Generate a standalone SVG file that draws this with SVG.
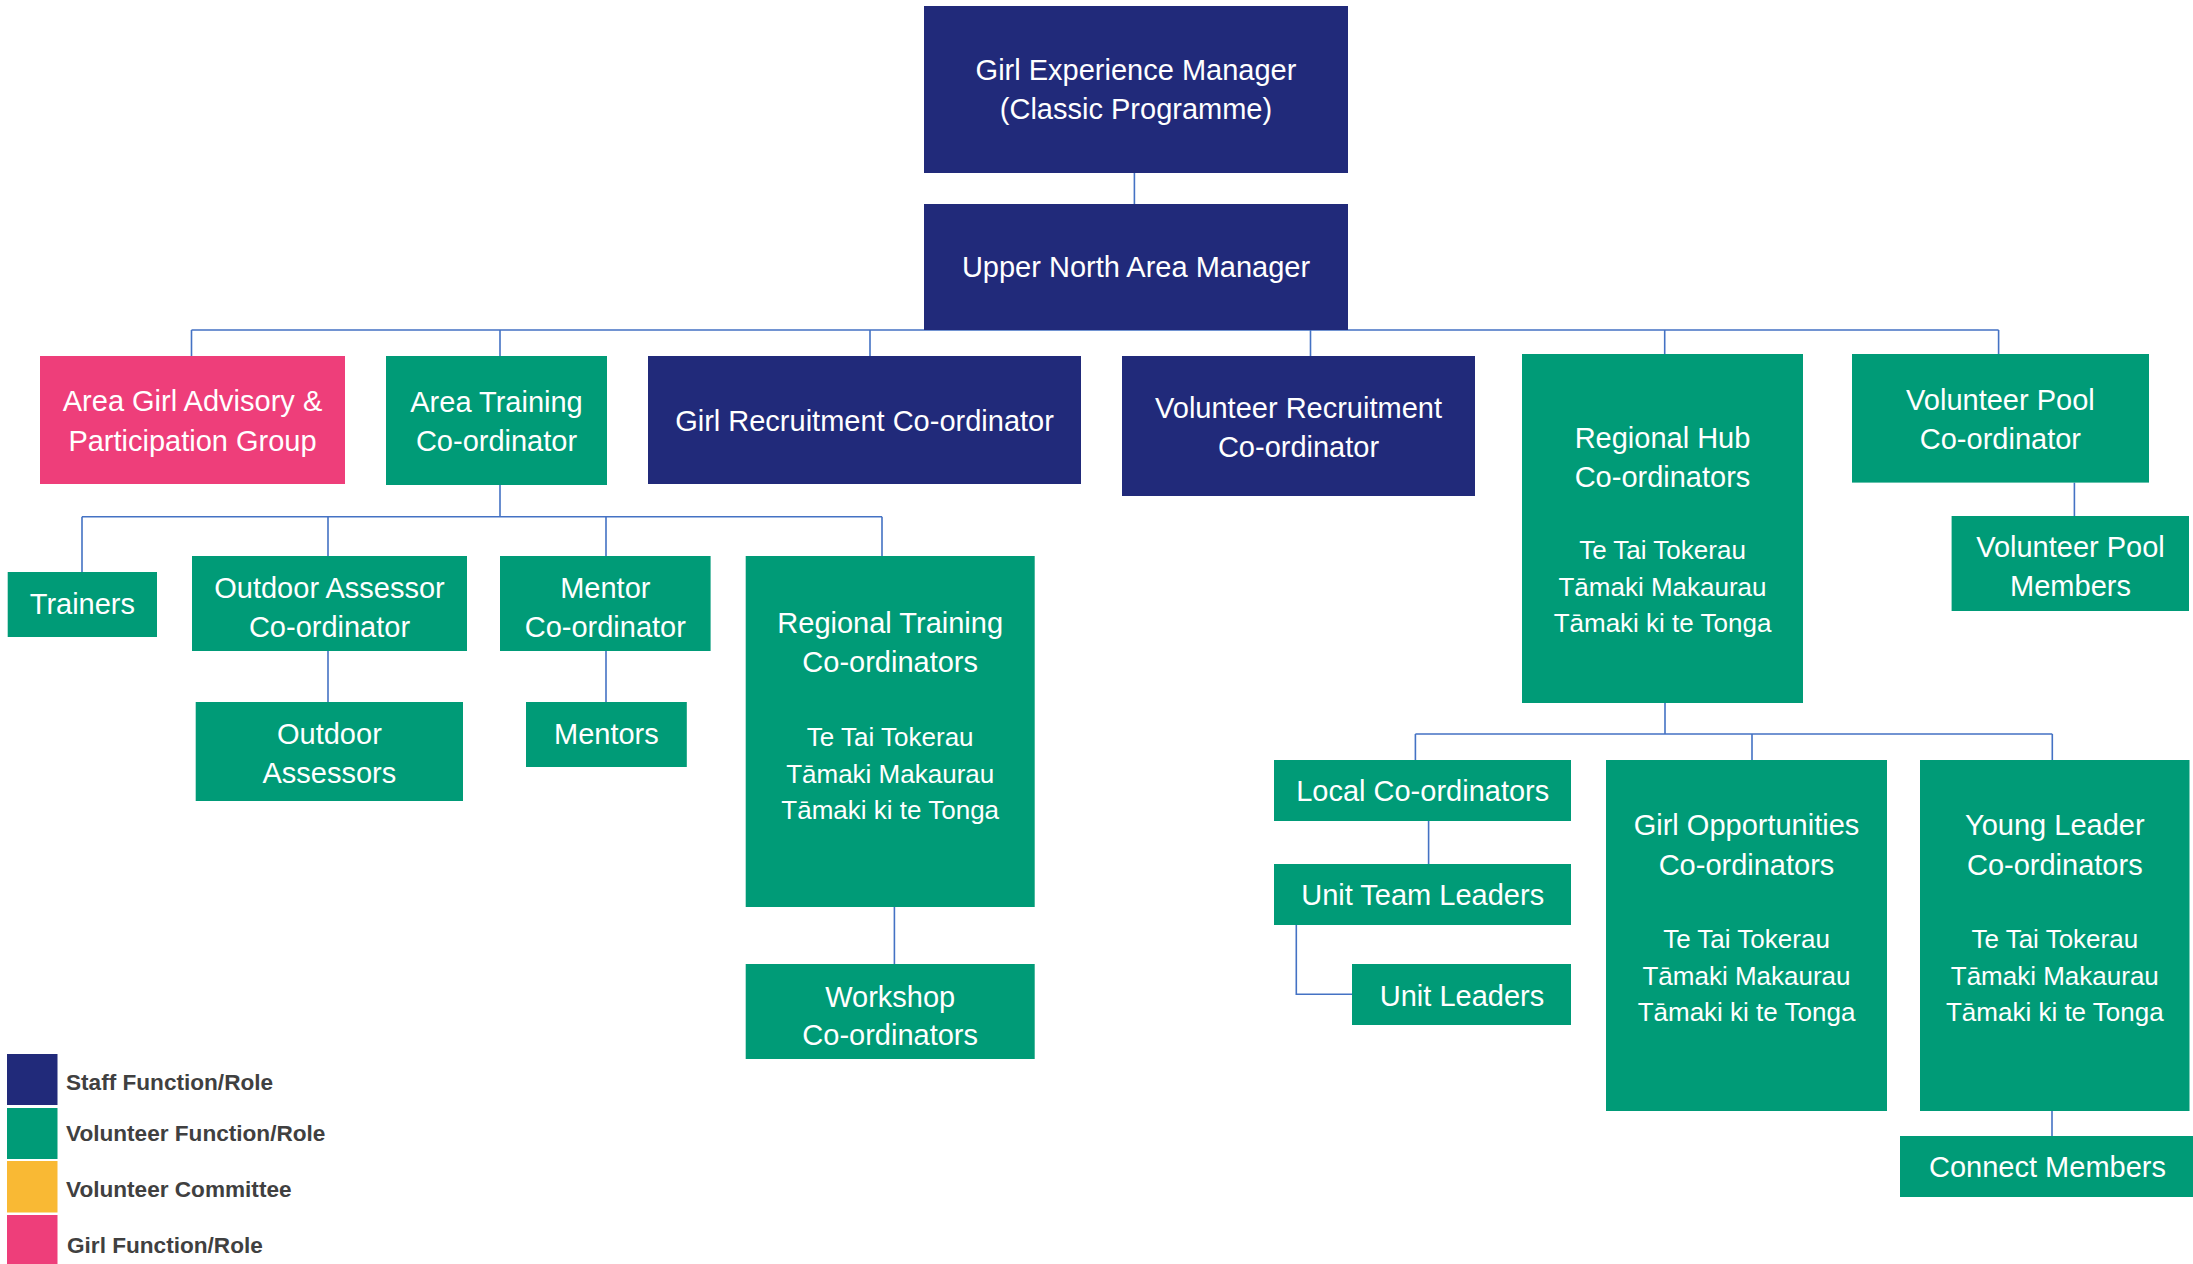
<svg xmlns="http://www.w3.org/2000/svg" width="2193" height="1264" viewBox="0 0 2193 1264">
<style>
.staff{fill:#212A7A}
.vol{fill:#009B77}
.girl{fill:#EE3E7A}
.comm{fill:#F9B934}
.t{font-family:"Liberation Sans",Arial,sans-serif;font-size:29px;fill:#ffffff;text-anchor:middle}
.p{font-family:"Liberation Sans",Arial,sans-serif;font-size:26px;fill:#ffffff;text-anchor:middle}
.lg{font-family:"Liberation Sans",Arial,sans-serif;font-size:22.6px;font-weight:bold;fill:#404040}
.c{fill:none;stroke:#4472C4;stroke-width:1.6}
</style>
<rect width="2193" height="1264" fill="#ffffff"/>
<g id="connectors">
<path class="c" d="M1134.4,172.7V204"/>
<path class="c" d="M191.5,330H1998.6M191.5,330V356M500,330V356M870,330V356M1310.5,330V356M1664.7,330V354M1998.6,330V354"/>
<path class="c" d="M500,485V516.7M82,516.7H882M82,516.7V572M328,516.7V556M606,516.7V556M882,516.7V556"/>
<path class="c" d="M328,651V702"/>
<path class="c" d="M606,651V702"/>
<path class="c" d="M894.4,907V964"/>
<path class="c" d="M2074.4,482.6V516"/>
<path class="c" d="M1665,703V734M1415.4,734H2052.3M1415.4,734V760M1752,734V760M2052.3,734V760"/>
<path class="c" d="M1428.6,821V864"/>
<path class="c" d="M1296.3,925V994.2H1352"/>
<path class="c" d="M2052,1111V1136"/>
</g>
<g id="girl-experience-manager">
<rect class="staff" x="924" y="6" width="424" height="167"/>
<text class="t" x="1136" y="80">Girl Experience Manager</text>
<text class="t" x="1136" y="119">(Classic Programme)</text>
</g>
<g id="upper-north-area-manager">
<rect class="staff" x="924" y="204" width="424" height="126"/>
<text class="t" x="1136" y="277">Upper North Area Manager</text>
</g>
<g id="area-girl-advisory">
<rect class="girl" x="40" y="356" width="305" height="128"/>
<text class="t" x="192.5" y="410.5">Area Girl Advisory &amp;</text>
<text class="t" x="192.5" y="450.5">Participation Group</text>
</g>
<g id="area-training-coordinator">
<rect class="vol" x="386" y="356" width="221" height="129"/>
<text class="t" x="496.5" y="411.5">Area Training</text>
<text class="t" x="496.5" y="451">Co-ordinator</text>
</g>
<g id="girl-recruitment-coordinator">
<rect class="staff" x="648" y="356" width="433" height="128"/>
<text class="t" x="864.5" y="431">Girl Recruitment Co-ordinator</text>
</g>
<g id="volunteer-recruitment-coordinator">
<rect class="staff" x="1122" y="356" width="353" height="140"/>
<text class="t" x="1298.5" y="418">Volunteer Recruitment</text>
<text class="t" x="1298.5" y="457">Co-ordinator</text>
</g>
<g id="regional-hub-coordinators">
<rect class="vol" x="1522" y="354" width="281" height="349"/>
<text class="t" x="1662.5" y="447.5">Regional Hub</text>
<text class="t" x="1662.5" y="486.5">Co-ordinators</text>
<text class="p" x="1662.5" y="559">Te Tai Tokerau</text>
<text class="p" x="1662.5" y="595.5">Tāmaki Makaurau</text>
<text class="p" x="1662.5" y="631.5">Tāmaki ki te Tonga</text>
</g>
<g id="volunteer-pool-coordinator">
<rect class="vol" x="1852" y="354" width="297" height="128.6"/>
<text class="t" x="2000.4" y="410">Volunteer Pool</text>
<text class="t" x="2000.4" y="448.6">Co-ordinator</text>
</g>
<g id="volunteer-pool-members">
<rect class="vol" x="1951.6" y="516" width="237.4" height="95"/>
<text class="t" x="2070.5" y="556.5">Volunteer Pool</text>
<text class="t" x="2070.5" y="595.5">Members</text>
</g>
<g id="trainers">
<rect class="vol" x="7.7" y="572" width="149.3" height="65"/>
<text class="t" x="82.4" y="614">Trainers</text>
</g>
<g id="outdoor-assessor-coordinator">
<rect class="vol" x="192" y="556" width="275" height="95"/>
<text class="t" x="329.5" y="597.5">Outdoor Assessor</text>
<text class="t" x="329.5" y="636.5">Co-ordinator</text>
</g>
<g id="outdoor-assessors">
<rect class="vol" x="195.7" y="702" width="267.3" height="99"/>
<text class="t" x="329.4" y="743.5">Outdoor</text>
<text class="t" x="329.4" y="782.5">Assessors</text>
</g>
<g id="mentor-coordinator">
<rect class="vol" x="500" y="556" width="210.6" height="95"/>
<text class="t" x="605.3" y="597.5">Mentor</text>
<text class="t" x="605.3" y="636.5">Co-ordinator</text>
</g>
<g id="mentors">
<rect class="vol" x="526" y="702" width="160.8" height="65"/>
<text class="t" x="606.4" y="744">Mentors</text>
</g>
<g id="regional-training-coordinators">
<rect class="vol" x="745.7" y="556" width="289" height="351"/>
<text class="t" x="890.2" y="632.5">Regional Training</text>
<text class="t" x="890.2" y="671.5">Co-ordinators</text>
<text class="p" x="890.2" y="746">Te Tai Tokerau</text>
<text class="p" x="890.2" y="782.5">Tāmaki Makaurau</text>
<text class="p" x="890.2" y="819">Tāmaki ki te Tonga</text>
</g>
<g id="workshop-coordinators">
<rect class="vol" x="745.7" y="964" width="289" height="95"/>
<text class="t" x="890.2" y="1006.5">Workshop</text>
<text class="t" x="890.2" y="1045">Co-ordinators</text>
</g>
<g id="local-coordinators">
<rect class="vol" x="1274" y="760" width="297" height="61"/>
<text class="t" x="1422.7" y="801">Local Co-ordinators</text>
</g>
<g id="unit-team-leaders">
<rect class="vol" x="1274" y="864" width="297" height="61"/>
<text class="t" x="1422.7" y="905">Unit Team Leaders</text>
</g>
<g id="unit-leaders">
<rect class="vol" x="1352" y="964" width="219" height="61"/>
<text class="t" x="1462" y="1005.5">Unit Leaders</text>
</g>
<g id="girl-opportunities-coordinators">
<rect class="vol" x="1606" y="760" width="281" height="351"/>
<text class="t" x="1746.5" y="835">Girl Opportunities</text>
<text class="t" x="1746.5" y="874.5">Co-ordinators</text>
<text class="p" x="1746.5" y="948">Te Tai Tokerau</text>
<text class="p" x="1746.5" y="985">Tāmaki Makaurau</text>
<text class="p" x="1746.5" y="1021">Tāmaki ki te Tonga</text>
</g>
<g id="young-leader-coordinators">
<rect class="vol" x="1920" y="760" width="269.5" height="351"/>
<text class="t" x="2054.8" y="835">Young Leader</text>
<text class="t" x="2054.8" y="874.5">Co-ordinators</text>
<text class="p" x="2054.8" y="948">Te Tai Tokerau</text>
<text class="p" x="2054.8" y="985">Tāmaki Makaurau</text>
<text class="p" x="2054.8" y="1021">Tāmaki ki te Tonga</text>
</g>
<g id="connect-members">
<rect class="vol" x="1900" y="1136" width="293" height="61"/>
<text class="t" x="2047.5" y="1177">Connect Members</text>
</g>
<g id="legend">
<rect class="staff" x="7" y="1054" width="50.5" height="51"/>
<rect class="vol" x="7" y="1108" width="50.5" height="51"/>
<rect class="comm" x="7" y="1161" width="50.5" height="51.5"/>
<rect class="girl" x="7" y="1215" width="50.5" height="49"/>
<text class="lg" x="66" y="1089.5">Staff Function/Role</text>
<text class="lg" x="66" y="1141">Volunteer Function/Role</text>
<text class="lg" x="66" y="1197">Volunteer Committee</text>
<text class="lg" x="67" y="1253">Girl Function/Role</text>
</g>
</svg>
